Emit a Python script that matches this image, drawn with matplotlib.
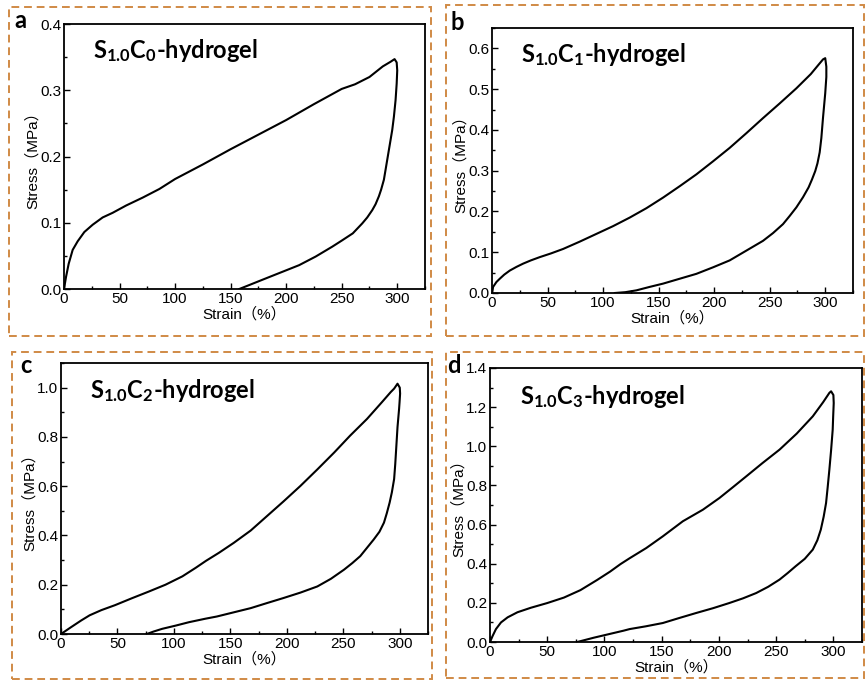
import matplotlib
matplotlib.use("Agg")
import matplotlib.pyplot as plt
from matplotlib.patches import Rectangle
from matplotlib.ticker import MultipleLocator

plt.rcParams['font.family'] = ['Liberation Sans', 'Noto Sans CJK SC']
plt.rcParams['mathtext.fontset'] = 'custom'
plt.rcParams['mathtext.rm'] = 'Lato'
plt.rcParams['mathtext.bf'] = 'Lato:bold'

# strain (%) / stress (MPa)
a_strain = [0, 1.8, 4.2, 7.8, 12.3, 18.3, 25.8, 34.8, 43.8, 55.9, 70.9, 85.9, 100, 125, 150, 175, 200, 225, 250,
            262, 275, 287, 294, 297.6, 299.5, 300,
            299.5, 298.5, 297, 295.5, 294, 291, 288, 285.5, 283.5, 280.5, 277.5, 273, 268.5, 260, 250,
            241.6, 226.6, 211.7, 196.7, 181.7, 166.8, 157.8]
a_stress = [0, 0.018, 0.038, 0.059, 0.072, 0.086, 0.097, 0.108, 0.115, 0.126, 0.138, 0.151, 0.166, 0.188, 0.211, 0.233, 0.255, 0.279, 0.302,
            0.309, 0.320, 0.336, 0.343, 0.347, 0.342, 0.330,
            0.310, 0.285, 0.260, 0.240, 0.225, 0.195, 0.165, 0.150, 0.140, 0.128, 0.119, 0.108, 0.099, 0.084, 0.073,
            0.064, 0.049, 0.036, 0.026, 0.016, 0.006, 0.0]

b_strain = [0, 1, 4, 7, 11, 16, 22, 28, 35, 43, 53, 64, 79, 94, 109, 124, 139, 154, 169, 184, 199, 214, 229, 244,
            259, 274, 287, 294, 298, 300,
            301, 301, 300, 298, 296.5, 295, 293, 291, 288, 285, 280, 274, 268, 262, 253, 244, 229, 214, 199,
            184, 169, 154, 142, 130, 120, 110.6]
b_stress = [0, 0.015, 0.027, 0.035, 0.045, 0.055, 0.064, 0.072, 0.080, 0.088, 0.097, 0.108, 0.126, 0.145, 0.164, 0.185, 0.208, 0.234, 0.262, 0.291, 0.323, 0.356, 0.392, 0.429,
            0.465, 0.502, 0.537, 0.560, 0.573, 0.576,
            0.555, 0.530, 0.490, 0.430, 0.380, 0.345, 0.318, 0.299, 0.278, 0.259, 0.235, 0.210, 0.189, 0.169, 0.147, 0.128, 0.104, 0.080, 0.063,
            0.047, 0.035, 0.023, 0.015, 0.0065, 0.002, 0.0]

c_strain = [0, 9, 17.9, 25.4, 35.8, 47.8, 62.7, 77.6, 92.5, 107.5, 119.4, 128.4, 140, 153, 168, 182.5, 197, 212, 227, 242,
            256, 271, 284, 292, 295, 298, 300, 300.3,
            299.8, 299.4, 298, 297, 296, 295, 293, 291, 288.5, 286, 282, 277, 271, 265, 258, 250.6, 239, 227, 212,
            197, 182, 168, 153, 138, 127.8, 113.4, 101.5, 89.6, 82, 76]
c_stress = [0, 0.028, 0.055, 0.076, 0.097, 0.117, 0.145, 0.172, 0.200, 0.234, 0.269, 0.297, 0.330, 0.370, 0.420, 0.479, 0.538, 0.601, 0.668, 0.737,
            0.805, 0.873, 0.940, 0.982, 0.996, 1.016, 1.000, 0.976,
            0.940, 0.914, 0.840, 0.765, 0.690, 0.629, 0.575, 0.533, 0.490, 0.452, 0.415, 0.384, 0.350, 0.316, 0.288, 0.261, 0.224, 0.193, 0.168,
            0.146, 0.125, 0.105, 0.088, 0.071, 0.062, 0.048, 0.034, 0.021, 0.010, 0.0]

d_strain = [0, 2.3, 5.2, 9.6, 15.4, 24, 35.7, 50, 64.6, 79, 93.6, 105, 114, 122, 136.5, 151, 168.5, 186, 200.5, 212, 224,
            238, 253, 268, 282, 291, 296.5, 298, 300, 300.3,
            299.8, 299.4, 298, 296.5, 295, 293.6, 291.5, 289, 286, 282, 275, 267, 260, 253, 243, 232.5, 221, 209,
            195, 180, 165, 151, 136, 122, 116.8, 105.2, 90.7, 76.2]
d_stress = [0, 0.031, 0.066, 0.100, 0.126, 0.152, 0.175, 0.199, 0.227, 0.265, 0.317, 0.360, 0.398, 0.428, 0.480, 0.540, 0.617, 0.676, 0.736, 0.790, 0.847,
            0.914, 0.983, 1.065, 1.153, 1.225, 1.273, 1.281, 1.262, 1.221,
            1.150, 1.085, 0.980, 0.881, 0.790, 0.710, 0.640, 0.574, 0.520, 0.472, 0.425, 0.387, 0.352, 0.319, 0.282, 0.250, 0.223, 0.199,
            0.173, 0.148, 0.122, 0.097, 0.080, 0.066, 0.058, 0.042, 0.022, 0.0]

panels = [
    # label, C index, x, y, ymax, major, minor, axes rect (px: left, top, right, bottom)
    ('a', '0', a_strain, a_stress, 0.4, 0.1, 0.05, (64, 24, 425, 289)),
    ('b', '1', b_strain, b_stress, 0.65, 0.1, 0.05, (492, 28, 853, 293)),
    ('c', '2', c_strain, c_stress, 1.1, 0.2, 0.1, (61, 363, 428, 634)),
    ('d', '3', d_strain, d_stress, 1.4, 0.2, 0.1, (490, 368, 862, 642)),
]

W, H = 865, 680
fig = plt.figure(figsize=(W / 100, H / 100), dpi=100)

# dashed orange frames round each panel (px: left, top, right, bottom)
boxes = [(9, 7, 431, 336), (446, 5, 864, 336), (12, 352, 432, 679), (446, 352, 864, 678)]
for l, t, r, b in boxes:
    fig.add_artist(Rectangle((l / W, 1 - b / H), (r - l) / W, (b - t) / H,
                             transform=fig.transFigure, fill=False,
                             edgecolor='#D08A45', lw=1.4, ls=(0, (4, 2.5))))

for label, idx, xs, ys, ymax, major, minor, (l, t, r, b) in panels:
    ax = fig.add_axes([l / W, 1 - b / H, (r - l) / W, (b - t) / H])
    ax.plot(xs, ys, color='black', lw=1.5, solid_joinstyle='round')
    ax.set_xlim(0, 325)
    ax.set_ylim(0, ymax)
    ax.xaxis.set_major_locator(MultipleLocator(50))
    ax.xaxis.set_minor_locator(MultipleLocator(25))
    ax.yaxis.set_major_locator(MultipleLocator(major))
    ax.yaxis.set_minor_locator(MultipleLocator(minor))
    ax.tick_params(which='both', direction='in', labelsize=11, pad=2)
    ax.tick_params(which='major', length=4, width=1)
    ax.tick_params(which='minor', length=2.5, width=1)
    for s in ax.spines.values():
        s.set_linewidth(1.3)
    ax.set_xlabel('Strain（%）', fontsize=11, labelpad=1)
    ax.set_ylabel('Stress（MPa）', fontsize=11, labelpad=0)
    ax.text(0.08, 0.87, r'$\mathbf{S_{1.0}C_{' + idx + r'}}$-hydrogel', transform=ax.transAxes,
            fontsize=17, fontweight='bold', family='Lato', va='baseline')

# panel letters
letters = [('a', 14, 28), ('b', 451, 30), ('c', 20, 373), ('d', 447, 373)]
for s, x, y in letters:
    fig.text(x / W, 1 - y / H, s, fontsize=17, fontweight='bold', family='Lato', va='baseline')

fig.savefig('out.png', dpi=100)
